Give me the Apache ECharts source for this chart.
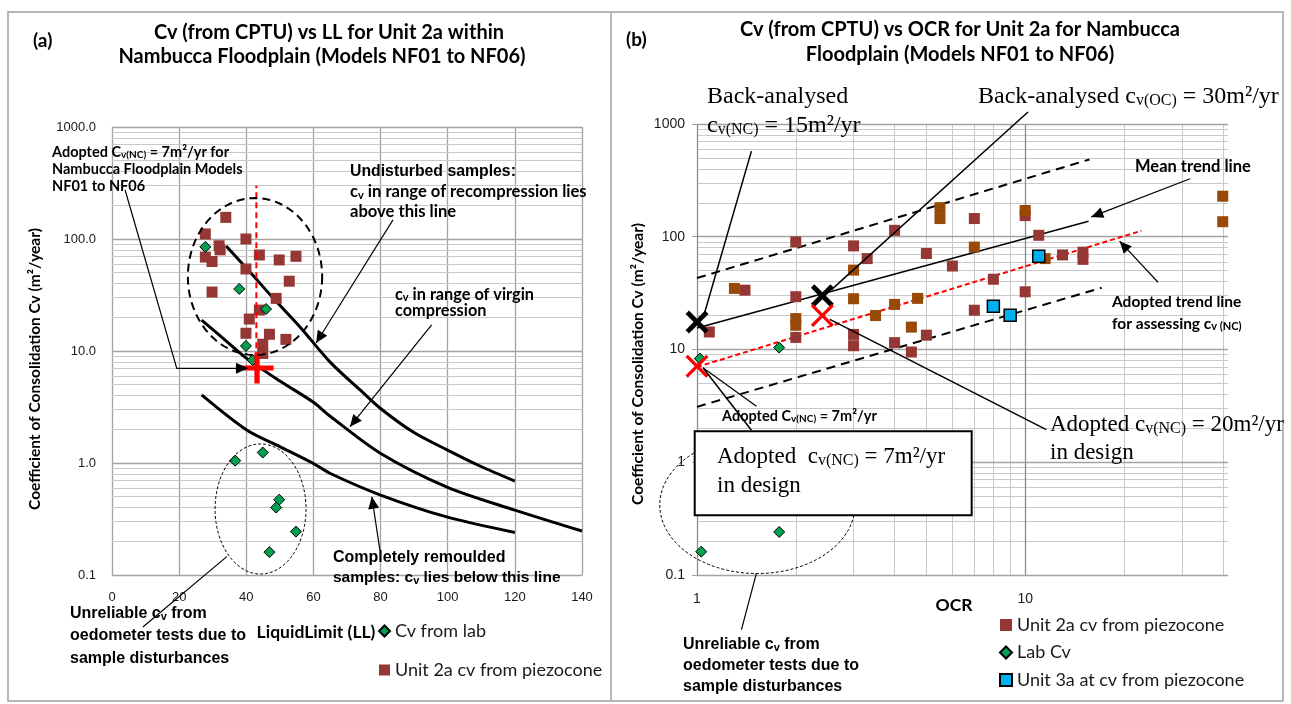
<!DOCTYPE html>
<html>
<head>
<meta charset="utf-8">
<script src="https://cdn.jsdelivr.net/npm/echarts@6/dist/echarts.min.js"></script>
<style>
html,body{margin:0;padding:0;background:#fff;}
#chart{width:1291px;height:704px;}
</style>
</head>
<body>
<div id="chart"></div>
<script>
// ---------- Panel (a): cv against liquid limit ----------
const llLabCv = [[27.8,85],[37.9,35.8],[45.9,23.7],[39.9,11.1],[41.9,8.3],[36.7,1.05],[44.9,1.24],[49.8,0.47],[48.9,0.40],[54.8,0.244],[46.9,0.16]];
const llPiezoCv = [[33.9,156],[27.8,111],[39.9,100],[31.9,87],[32.2,80],[43.9,72],[27.8,69],[29.8,63],[49.8,65],[54.8,70],[39.9,54],[52.8,42],[29.8,33.6],[48.9,29.5],[43.9,23.2],[40.9,19.3],[39.9,14.4],[46.9,14.1],[51.8,12.7],[44.9,11.5],[44.9,9.5]];
const recompressionLine = [[34,86.6],[41.1,50.7],[48,29.7],[56,16.4],[64.9,8.0],[73.9,4.49],[79.8,3.10],[89.7,1.89],[99.8,1.31],[109.6,0.94],[120,0.69]];
const virginLine = [[26.7,18.9],[33.7,12.5],[40.1,8.6],[50,5.4],[59.9,3.5],[64.9,2.63],[79.8,1.23],[99.8,0.61],[120,0.38],[140,0.247]];
const remouldedLine = [[26.7,4.05],[40.1,1.97],[50,1.4],[60,0.99],[64.9,0.81],[79.8,0.52],[99.7,0.33],[120,0.24]];
const adoptedLL = [[43,7],[43,300]];
const adoptedLLPoint = [[43.2,7.05]];

// ---------- Panel (b): cv against OCR ----------
const ocrPiezo2a = [[2.0,90],[1.40,33.6],[2.0,29.4],[2.0,12.8],[1.09,14.3],[3.0,83],[3.3,64],[3.0,13.6],[3.0,10.8],[4.0,114],[4.0,11.5],[4.5,9.5],[7.0,145],[10,154],[11,103],[5.0,71],[6.0,55],[13,69],[15,73],[15,63],[8.0,42],[10,32.5],[7.0,22.3],[5.0,13.4]];
const ocrPiezo2aB = [[1.30,34.8],[2.0,18.8],[2.0,16.4],[3.0,50.6],[3.0,28.2],[3.5,20],[4.0,25.1],[4.5,15.8],[5.5,181],[5.5,145],[10,171],[7.0,81],[11.5,64],[4.7,28.4],[40,229],[40,136]];
const ocrLabCv = [[1.02,8.3],[1.78,10.4],[1.78,0.241],[1.03,0.161]];
const ocrPiezo3a = [[11,67],[8.0,24.2],[9.0,20.1]];
const upperBound = [[1,43],[15.7,485]];
const lowerBound = [[1,3.1],[17.1,35.3]];
const meanTrend = [[1,15.5],[15.6,137]];
const adoptedTrend = [[1,7],[22.6,113]];
const backAnalysedPts = [[1,17.5],[2.41,30]];
const adoptedPts = [[1,7.1],[2.41,20]];

// ---------- Callouts (data coordinates of each panel) ----------
const noteAdopted7 = [[3.9,274],[19.3,7],[40.5,7]];
const noteUndisturbed = [[83.7,148],[60.8,11.8]];
const noteVirgin = [[95.2,17.1],[70.9,2.11]];
const noteRemoulded = [[79.8,0.167],[77.4,0.50]];
const noteUnreliableA = [[9.2,0.0343],[34.2,0.146]];
const ringUndisturbed = [22.6,62.6,9.2,232];
const ringLabA = [30.7,57.8,0.102,1.48];

const noteBack15 = [[1.055,21.2],[1.465,575]];
const noteBack30 = [[2.57,34],[10.2,1276]];
const noteAdopt20 = [[2.54,18.5],[11.6,1.95]];
const noteAdopt7a = [[1.043,6.9],[1.517,3.14]];
const noteAdopt7b = [[1.043,6.9],[1.465,1.92]];
const noteMean = [[31.8,327],[15.9,150]];
const noteAdoptTrend = [[25.4,39.5],[19.4,91.4]];
const noteUnreliableB = [[1.366,0.0328],[1.517,0.1035]];
const ringLabB = [0.77,3.03,0.103,1.69];
const designBox = [0.984,6.87,0.339,1.88];

// ---------- styling ----------
const CAL = 'Lato, "Open Sans", sans-serif';
const ARIAL = '"Liberation Sans", Arial, sans-serif';
const NARROW = '"Liberation Sans Narrow", "Liberation Sans", Arial, sans-serif';
const TIMES = '"Liberation Serif", "Times New Roman", serif';
const C_RED2A = '#953735', C_ORANGE = '#984807', C_GREEN = '#00a050', C_BLUE = '#00b0f0';
const MAJOR = '#a3a3a3', MINOR = '#c9c9c9';

const PLUS = 'path://M-1.6,-10 L1.6,-10 L1.6,-1.6 L10,-1.6 L10,1.6 L1.6,1.6 L1.6,10 L-1.6,10 L-1.6,1.6 L-10,1.6 L-10,-1.6 L-1.6,-1.6 Z';
const CROSS_THICK = 'path://M-10,-7 L-7,-10 L0,-3 L7,-10 L10,-7 L3,0 L10,7 L7,10 L0,3 L-7,10 L-10,7 L-3,0 Z';
const CROSS_THIN = 'path://M-10,-8 L-8,-10 L0,-2 L8,-10 L10,-8 L2,0 L10,8 L8,10 L0,2 L-8,10 L-10,8 L-2,0 Z';

function decadeMinors(lo, hi) {
  const out = [];
  for (let d = lo; d < hi * 0.999; d *= 10) for (let k = 2; k <= 9; k++) out.push(+(k * d).toPrecision(3));
  return out;
}
const cvMajors = [0.1,1,10,100,1000];
const cvMinors = decadeMinors(0.1, 1000);
const ocrMajors = [1,10];
const ocrMinors = [2,3,4,5,6,7,8,9,20,30,40];

function gridLines(axis, vals, color, width) {
  return vals.map(v => ({ [axis]: v, lineStyle: { color, width, type: 'solid' } }));
}

const chart = echarts.init(document.getElementById('chart'), null, { renderer: 'canvas' });

const tickLabel = { fontFamily: ARIAL, fontSize: 13, color: '#1a1a1a' };
const gridMarkBase = { silent: true, z: 1, symbol: ['none', 'none'], label: { show: false }, animation: false };

const option = {
  animation: false,
  backgroundColor: '#ffffff',
  grid: [
    { left: 112, top: 127, width: 470, height: 448 },
    { left: 697, top: 124, width: 531, height: 451 }
  ],
  xAxis: [
    { type: 'value', gridIndex: 0, min: 0, max: 140, interval: 20,
      axisLine: { show: true, lineStyle: { color: MAJOR } }, axisTick: { show: false },
      axisLabel: Object.assign({ margin: 16 }, tickLabel),
      splitLine: { show: true, lineStyle: { color: MAJOR, width: 1.3 } } },
    { type: 'log', logBase: 10, gridIndex: 1, min: 1, max: 41.5,
      axisLine: { show: true, lineStyle: { color: MAJOR } }, axisTick: { show: false },
      axisLabel: Object.assign({}, tickLabel, { margin: 17, fontSize: 14,
        formatter: v => (Math.abs(v - 1) < 1e-6 || Math.abs(v - 10) < 1e-6) ? String(Math.round(v)) : '' }),
      splitLine: { show: false } }
  ],
  yAxis: [
    { type: 'log', logBase: 10, gridIndex: 0, min: 0.1, max: 1000,
      axisLine: { show: false }, axisTick: { show: false },
      axisLabel: Object.assign({ margin: 16, formatter: v => Number(v).toFixed(1) }, tickLabel),
      splitLine: { show: true, lineStyle: { color: MAJOR, width: 1.3 } } },
    { type: 'log', logBase: 10, gridIndex: 1, min: 0.1, max: 1000,
      axisLine: { show: false }, axisTick: { show: true, length: 5, lineStyle: { color: MAJOR } },
      axisLabel: Object.assign({}, tickLabel, { margin: 12, fontSize: 14, formatter: v => String(+Number(v).toPrecision(3)) }),
      splitLine: { show: false } }
  ],
  legend: [
    { orient: 'vertical', left: 378, top: 622, padding: 0, itemGap: 21, itemWidth: 11, itemHeight: 11,
      textStyle: { fontFamily: CAL, fontSize: 18, color: '#1a1a1a' },
      data: ['Cv from lab', 'Unit 2a cv from piezocone'] },
    { orient: 'vertical', left: 999, top: 616, padding: 0, itemGap: 9.5, itemWidth: 12, itemHeight: 12,
      textStyle: { fontFamily: CAL, fontSize: 18, color: '#1a1a1a' },
      data: ['Unit 2a cv from piezocone ', 'Lab Cv', 'Unit 3a at cv from piezocone'] }
  ],
  series: [
    // grid lines for panel (a)
    { type: 'scatter', xAxisIndex: 0, yAxisIndex: 0, data: [], z: 0, silent: true,
      markLine: Object.assign({ data: gridLines('yAxis', cvMinors, MINOR, 1) }, gridMarkBase) },
    // grid lines for panel (b)
    { type: 'scatter', xAxisIndex: 1, yAxisIndex: 1, data: [], z: 0, silent: true,
      markLine: Object.assign({ data: [].concat(
          gridLines('yAxis', cvMinors, MINOR, 1),
          gridLines('xAxis', ocrMinors, MINOR, 1),
          gridLines('yAxis', cvMajors, MAJOR, 1.3),
          gridLines('xAxis', ocrMajors, '#8c8c8c', 1.3)) }, gridMarkBase) },

    // ----- panel (a) -----
    { name: 'recompression', type: 'line', xAxisIndex: 0, yAxisIndex: 0, data: recompressionLine,
      smooth: 0.3, symbol: 'none', lineStyle: { color: '#000', width: 3 }, z: 3 },
    { name: 'virgin', type: 'line', xAxisIndex: 0, yAxisIndex: 0, data: virginLine,
      smooth: 0.3, symbol: 'none', lineStyle: { color: '#000', width: 3 }, z: 3 },
    { name: 'remoulded', type: 'line', xAxisIndex: 0, yAxisIndex: 0, data: remouldedLine,
      smooth: 0.3, symbol: 'none', lineStyle: { color: '#000', width: 3 }, z: 3 },
    { name: 'Unit 2a cv from piezocone', type: 'scatter', xAxisIndex: 0, yAxisIndex: 0, data: llPiezoCv,
      symbol: 'rect', symbolSize: 11, itemStyle: { color: C_RED2A, opacity: 1 }, z: 4 },
    { name: 'Cv from lab', type: 'scatter', xAxisIndex: 0, yAxisIndex: 0, data: llLabCv,
      symbol: 'diamond', symbolSize: 11, itemStyle: { color: C_GREEN, borderColor: '#000', borderWidth: 1, opacity: 1 }, z: 5 },
    { name: 'adopted LL', type: 'line', xAxisIndex: 0, yAxisIndex: 0, data: adoptedLL,
      symbol: 'none', lineStyle: { color: '#ff0000', width: 2, type: [6, 4] }, z: 6 },
    { name: 'adopted point', type: 'scatter', xAxisIndex: 0, yAxisIndex: 0, data: adoptedLLPoint,
      symbol: PLUS, symbolSize: [33, 31], itemStyle: { color: '#ff0000', opacity: 1 }, z: 7 },

    // ----- panel (b) -----
    { name: 'upper bound', type: 'line', xAxisIndex: 1, yAxisIndex: 1, data: upperBound,
      symbol: 'none', lineStyle: { color: '#000', width: 2, type: [9, 6] }, z: 3 },
    { name: 'lower bound', type: 'line', xAxisIndex: 1, yAxisIndex: 1, data: lowerBound,
      symbol: 'none', lineStyle: { color: '#000', width: 2, type: [9, 6] }, z: 3 },
    { name: 'mean trend', type: 'line', xAxisIndex: 1, yAxisIndex: 1, data: meanTrend,
      symbol: 'none', lineStyle: { color: '#000', width: 1.5 }, z: 3 },
    { name: 'adopted trend', type: 'line', xAxisIndex: 1, yAxisIndex: 1, data: adoptedTrend,
      symbol: 'none', lineStyle: { color: '#ff0000', width: 2, type: [5, 3] }, z: 3 },
    { name: 'Unit 2a cv from piezocone ', type: 'scatter', xAxisIndex: 1, yAxisIndex: 1, data: ocrPiezo2a,
      symbol: 'rect', symbolSize: 11, itemStyle: { color: C_RED2A, opacity: 1 }, z: 4 },
    { name: 'Unit 2a cv (set 2)', type: 'scatter', xAxisIndex: 1, yAxisIndex: 1, data: ocrPiezo2aB,
      symbol: 'rect', symbolSize: 11, itemStyle: { color: C_ORANGE, opacity: 1 }, z: 4 },
    { name: 'Lab Cv', type: 'scatter', xAxisIndex: 1, yAxisIndex: 1, data: ocrLabCv,
      symbol: 'diamond', symbolSize: 11, itemStyle: { color: C_GREEN, borderColor: '#000', borderWidth: 1, opacity: 1 }, z: 5 },
    { name: 'Unit 3a at cv from piezocone', type: 'scatter', xAxisIndex: 1, yAxisIndex: 1, data: ocrPiezo3a,
      symbol: 'rect', symbolSize: 12, itemStyle: { color: C_BLUE, borderColor: '#000', borderWidth: 1.5, opacity: 1 }, z: 5 },
    { name: 'back-analysed', type: 'scatter', xAxisIndex: 1, yAxisIndex: 1, data: backAnalysedPts,
      symbol: CROSS_THICK, symbolSize: 23, itemStyle: { color: '#000', opacity: 1 }, z: 7 },
    { name: 'adopted', type: 'scatter', xAxisIndex: 1, yAxisIndex: 1, data: adoptedPts,
      symbol: CROSS_THIN, symbolSize: 23, itemStyle: { color: '#ff0000', opacity: 1 }, z: 7 }
  ]
};
chart.setOption(option);

// ---------- annotation layer ----------
const toPx = (g, p) => chart.convertToPixel({ gridIndex: g }, p);

function callout(g, pts, width, head) {
  const px = pts.map(p => toPx(g, p));
  const els = [{ type: 'polyline', silent: true, z: 100, shape: { points: px },
    style: { stroke: '#000', lineWidth: width, fill: null } }];
  if (head) {
    const q = px[px.length - 1], p = px[px.length - 2];
    const dx = q[0] - p[0], dy = q[1] - p[1], L = Math.hypot(dx, dy);
    const ux = dx / L, uy = dy / L, hl = 12, hw = 5.5;
    const bx = q[0] - ux * hl, by = q[1] - uy * hl;
    els.push({ type: 'polygon', silent: true, z: 101,
      shape: { points: [[q[0], q[1]], [bx - uy * hw, by + ux * hw], [bx + uy * hw, by - ux * hw]] },
      style: { fill: '#000' } });
  }
  return els;
}

function ring(g, b, width, dash) {
  const a = toPx(g, [b[0], b[3]]), c = toPx(g, [b[1], b[2]]);
  const cx = (a[0] + c[0]) / 2, cy = (a[1] + c[1]) / 2, rx = Math.abs(c[0] - a[0]) / 2, ry = Math.abs(c[1] - a[1]) / 2;
  const pts = [];
  for (let i = 0; i <= 120; i++) { const t = i / 120 * Math.PI * 2; pts.push([cx + rx * Math.cos(t), cy + ry * Math.sin(t)]); }
  return { type: 'polyline', silent: true, z: 90, shape: { points: pts },
    style: { stroke: '#000', lineWidth: width, lineDash: dash, fill: null } };
}

function richSet(fam, size, weight) {
  const sz = Math.round(size * 0.68);
  return {
    n: { fontFamily: fam, fontSize: size, fontWeight: weight, fill: '#000' },
    s: { fontFamily: fam, fontSize: sz, fontWeight: weight, fill: '#000', verticalAlign: 'bottom' }
  };
}

function text(x, y, str, fam, size, weight, align, extra) {
  return Object.assign({ type: 'text', x, y, silent: true, z: 120,
    style: { text: str, rich: richSet(fam, size, weight), fill: '#000',
      font: (weight || 'normal') + ' ' + size + 'px ' + fam,
      textAlign: align || 'left', align: align || 'left', textVerticalAlign: 'middle', verticalAlign: 'middle' } }, extra || {});
}

const bA = toPx(1, [designBox[0], designBox[3]]), bB = toPx(1, [designBox[1], designBox[2]]);

const elements = [
  // frame of both panels
  { type: 'rect', silent: true, z: 1, shape: { x: 8, y: 12, width: 1275, height: 689 },
    style: { stroke: '#a0a0a0', lineWidth: 1.5, fill: null } },
  { type: 'line', silent: true, z: 1, shape: { x1: 611, y1: 12, x2: 611, y2: 701 },
    style: { stroke: '#a0a0a0', lineWidth: 1.5 } },

  // titles
  text(33, 41, '(a)', CAL, 19, 'bold'),
  text(329, 33, 'Cv (from CPTU) vs LL for Unit 2a within', CAL, 20, 'bold', 'center'),
  text(322, 57, 'Nambucca Floodplain (Models NF01 to NF06)', CAL, 20, 'bold', 'center'),
  text(626, 40, '(b)', CAL, 19, 'bold'),
  text(960, 30, 'Cv (from CPTU) vs OCR for Unit 2a for Nambucca', CAL, 20, 'bold', 'center'),
  text(960, 55, 'Floodplain (Models NF01 to NF06)', CAL, 20, 'bold', 'center'),

  // axis titles
  text(35, 369, 'Coefficient of Consolidation Cv (m²/year)', CAL, 15.5, 'bold', 'center', { rotation: Math.PI / 2 }),
  text(638, 364, 'Coefficient of Consolidation Cv (m²/year)', CAL, 15.5, 'bold', 'center', { rotation: Math.PI / 2 }),
  text(316, 632, 'LiquidLimit (LL)', CAL, 17.5, 'bold', 'center'),
  text(954, 605, 'OCR', CAL, 17.5, 'bold', 'center'),

  // panel (a) notes
  text(52, 152, '{n|Adopted C}{s|v(NC)}{n| = 7m²/yr for}', CAL, 14.5, 'bold'),
  text(52, 169, 'Nambucca Floodplain Models', CAL, 14.5, 'bold'),
  text(52, 186, 'NF01 to NF06', CAL, 14.5, 'bold'),
  text(350, 172, 'Undisturbed samples:', ARIAL, 15.8, 'bold'),
  text(350, 192, '{n|c}{s|v}{n| in range of recompression lies}', CAL, 16.6, 'bold'),
  text(350, 212, 'above this line', CAL, 16.6, 'bold'),
  text(395, 295, '{n|c}{s|v}{n| in range of virgin}', CAL, 16.3, 'bold'),
  text(395, 311, 'compression', CAL, 16.3, 'bold'),
  text(333, 558, 'Completely remoulded', NARROW, 16, 'bold'),
  text(333, 578, '{n|samples: c}{s|v}{n| lies below this line}', NARROW, 15.5, 'bold'),
  text(70, 614, '{n|Unreliable c}{s|v}{n| from}', NARROW, 16, 'bold'),
  text(70, 636, 'oedometer tests due to', NARROW, 16, 'bold'),
  text(70, 659, 'sample disturbances', NARROW, 16, 'bold'),

  // panel (b) notes
  text(707, 97, 'Back-analysed', TIMES, 24),
  text(707, 126, '{n|c}{s|v(NC)}{n| = 15m²/yr}', TIMES, 24),
  text(978, 97, '{n|Back-analysed c}{s|v(OC)}{n| = 30m²/yr}', TIMES, 24),
  text(1135, 167, 'Mean trend line', CAL, 16.5, 'bold'),
  text(1112, 302, 'Adopted trend line', CAL, 15.5, 'bold'),
  text(1112, 324, '{n|for assessing c}{s|v (NC)}', CAL, 15.5, 'bold'),
  text(722, 416, '{n|Adopted C}{s|v(NC)}{n| = 7m²/yr}', CAL, 14.5, 'bold'),
  text(1050, 425, '{n|Adopted c}{s|v(NC)}{n| = 20m²/yr}', TIMES, 23),
  text(1050, 453, 'in design', TIMES, 23),
  text(683, 645, '{n|Unreliable c}{s|v}{n| from}', NARROW, 16, 'bold'),
  text(683, 666, 'oedometer tests due to', NARROW, 16, 'bold'),
  text(683, 687, 'sample disturbances', NARROW, 16, 'bold'),

  // ellipses
  ring(0, ringUndisturbed, 2, [8, 5]),
  ring(0, ringLabA, 1, [3, 2]),
  ring(1, ringLabB, 1, [3, 2]),

  // design box
  { type: 'rect', silent: true, z: 110,
    shape: { x: bA[0], y: bA[1], width: bB[0] - bA[0], height: bB[1] - bA[1] },
    style: { fill: '#fff', stroke: '#000', lineWidth: 2 } },
  text(717, 457, '{n|Adopted  c}{s|v(NC)}{n| = 7m²/yr}', TIMES, 23),
  text(717, 486, 'in design', TIMES, 23)
].concat(
  callout(0, noteAdopted7, 1.2, true),
  callout(0, noteUndisturbed, 1.2, true),
  callout(0, noteVirgin, 1.2, true),
  callout(0, noteRemoulded, 1.2, true),
  callout(0, noteUnreliableA, 1.2, false),
  callout(1, noteBack15, 1.5, false),
  callout(1, noteBack30, 1.5, false),
  callout(1, noteAdopt20, 1.5, false),
  callout(1, noteAdopt7a, 1.2, false),
  callout(1, noteAdopt7b, 1.5, false),
  callout(1, noteMean, 1.2, true),
  callout(1, noteAdoptTrend, 1.2, true),
  callout(1, noteUnreliableB, 1.2, false)
);

chart.setOption({ graphic: { elements } });
</script>
</body>
</html>
